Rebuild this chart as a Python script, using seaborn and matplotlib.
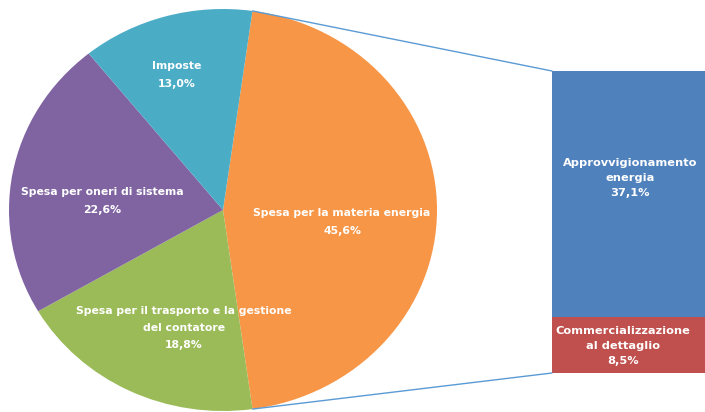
import numpy as np
import pandas as pd
import matplotlib.pyplot as plt
from matplotlib.patches import ConnectionPatch
import seaborn as sns

pie_labels = ["Spesa per la materia energia",
              "Spesa per il trasporto e la gestione\ndel contatore",
              "Spesa per oneri di sistema",
              "Imposte"]
pie_values = [45.6, 18.8, 22.6, 13.0]
pie_colors = ["#F79646", "#9BBB59", "#8064A2", "#4BACC6"]

bar_labels = ["Approvvigionamento\nenergia", "Commercializzazione\nal dettaglio"]
bar_values = [37.1, 8.5]
bar_colors = ["#4F81BD", "#C0504D"]

sns.set_theme(style="white")
plt.rcParams['font.family'] = ['DejaVu Sans']

W, H = 705, 412
fig = plt.figure(figsize=(W / 100, H / 100), dpi=100)


def pct(v):
    return f"{v:.1f}%".replace(".", ",")


# pie axes (pixel box from the reference, slightly wider than tall)
cx, cy, rx, ry = 223, 210, 214, 201
ax_pie = fig.add_axes([(cx - rx) / W, (H - cy - ry) / H, 2 * rx / W, 2 * ry / H])
half = pie_values[0] / 100 * 360 / 2
wedges, _ = ax_pie.pie(pie_values, colors=pie_colors, startangle=half,
                       counterclock=False, radius=1,
                       wedgeprops=dict(linewidth=0))
ax_pie.set_aspect("auto")
ax_pie.set_xlim(-1, 1)
ax_pie.set_ylim(-1, 1)
ax_pie.axis("off")

# label centres in pixels (reference)
label_pos = [(342, 222), (184, 328), (102, 201), (177, 75)]
for lab, val, (px, py) in zip(pie_labels, pie_values, label_pos):
    fig.text(px / W, 1 - py / H, f"{lab}\n{pct(val)}", ha="center", va="center",
             color="white", fontsize=7.8, fontweight="bold", linespacing=1.9)

# bar axes
bx0, bx1, by0, by1 = 552, 705, 71, 373
ax_bar = fig.add_axes([bx0 / W, (H - by1) / H, (bx1 - bx0) / W, (by1 - by0) / H])
total = sum(bar_values)
df_tot = pd.DataFrame({"g": ["x"], "v": [total]})
df_low = pd.DataFrame({"g": ["x"], "v": [bar_values[1]]})
sns.barplot(data=df_tot, x="g", y="v", color=bar_colors[0], width=1,
            saturation=1, linewidth=0, ax=ax_bar)
sns.barplot(data=df_low, x="g", y="v", color=bar_colors[1], width=1,
            saturation=1, linewidth=0, ax=ax_bar)
ax_bar.set_xlim(-0.5, 0.5)
ax_bar.set_ylim(0, total)
ax_bar.axis("off")

bar_pos = [(630, 178), (623, 346)]
for lab, val, (px, py) in zip(bar_labels, bar_values, bar_pos):
    fig.text(px / W, 1 - py / H, f"{lab}\n{pct(val)}", ha="center", va="center",
             color="white", fontsize=8.2, fontweight="bold", linespacing=1.65)

# connector lines from the orange wedge edges to the bar
ang = np.deg2rad(half)
for sgn, yb in [(1, total), (-1, 0)]:
    con = ConnectionPatch(xyA=(np.cos(ang), sgn * np.sin(ang)), coordsA=ax_pie.transData,
                          xyB=(-0.5, yb), coordsB=ax_bar.transData,
                          color="#5B9BD5", linewidth=1)
    fig.add_artist(con)

fig.savefig("out.png", dpi=100)
